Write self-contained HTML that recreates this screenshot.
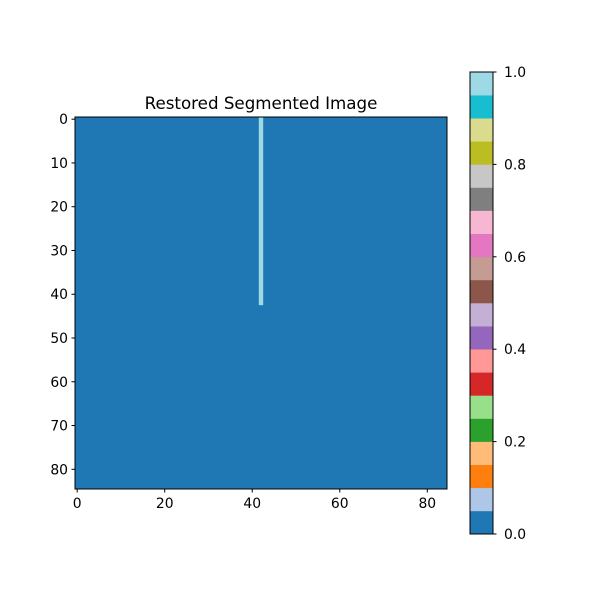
<!DOCTYPE html>
<html><head><meta charset="utf-8"><style>
body{margin:0;background:#fff;width:600px;height:600px;overflow:hidden}
text{font-family:"DejaVu Sans","Liberation Sans",sans-serif;fill:#000}
</style></head><body>
<svg id="chart" width="600" height="600" xmlns="http://www.w3.org/2000/svg"></svg>
<script>
const gridSize = 85;
const stripeCol = 42;
const stripeRowEnd = 42;
const axisTicks = [0,10,20,30,40,50,60,70,80];
const xTicks = [0,20,40,60,80];
const cbTicks = [0.0,0.2,0.4,0.6,0.8,1.0];
const palette = ["#1f77b4","#aec7e8","#ff7f0e","#ffbb78","#2ca02c","#98df8a","#d62728","#ff9896","#9467bd","#c5b0d5","#8c564b","#c49c94","#e377c2","#f7b6d2","#7f7f7f","#c7c7c7","#bcbd22","#dbdb8d","#17becf","#9edae5"];

const svg = document.getElementById('chart');
const NS = 'http://www.w3.org/2000/svg';
function mk(tag, attrs, parent){const e=document.createElementNS(NS,tag);for(const k in attrs)e.setAttribute(k,attrs[k]);(parent||svg).appendChild(e);return e;}
const L=75,T=117,S=372;
const cell=S/gridSize;
const px = v => L + (v+0.5)*cell;
const py = v => T + (v+0.5)*cell;

let bg = mk('rect',{x:L,y:T,width:S,height:S,fill:palette[0]});


let st = mk('rect',{x:L+stripeCol*cell,y:T,width:cell,height:(stripeRowEnd+1)*cell,fill:palette[19]});


let fr = mk('rect',{x:L,y:T,width:S,height:S,fill:'none',stroke:'#000','stroke-width':1});



axisTicks.forEach(v=>{
  const y=py(v);
  mk('line',{x1:L-3.5,x2:L,y1:y,y2:y,stroke:'#000'});
  const t=mk('text',{x:L-7,y:y+5,'font-size':13.9,'text-anchor':'end'});t.textContent=v;
  
  
});
xTicks.forEach(v=>{
  const x=px(v);
  mk('line',{x1:x,x2:x,y1:T+S,y2:T+S+3.5,stroke:'#000'});
  const t=mk('text',{x:x,y:T+S+19,'font-size':13.9,'text-anchor':'middle'});t.textContent=v;
  
  
});
const title=mk('text',{x:L+S/2,y:T-8,'font-size':16.7,'text-anchor':'middle'});
title.textContent='Restored Segmented Image';



// colorbar
const CL=470,CT=72,CW=23,CH=462;
const seg=CH/palette.length;
palette.forEach((c,i)=>{
  const r=mk('rect',{x:CL,y:CT+CH-(i+1)*seg,width:CW,height:seg+0.3,fill:c});
  
  
});
const cf=mk('rect',{x:CL,y:CT,width:CW,height:CH,fill:'none',stroke:'#000'});


cbTicks.forEach(v=>{
  const y=CT+CH-v*CH;
  mk('line',{x1:CL+CW,x2:CL+CW+3.5,y1:y,y2:y,stroke:'#000'});
  const t=mk('text',{x:CL+CW+11,y:y+5,'font-size':13.9});t.textContent=v.toFixed(1);
  
  
});
</script>
</body></html>
